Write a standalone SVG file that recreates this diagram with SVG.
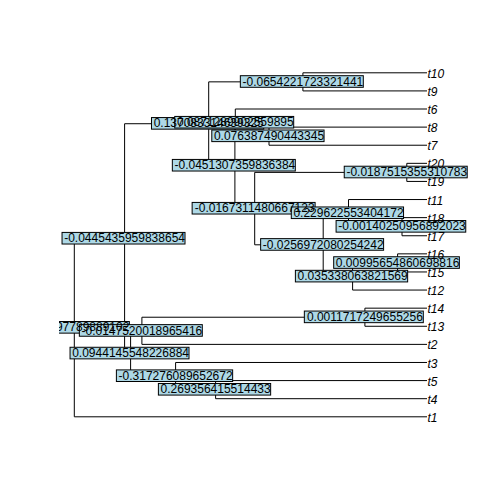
<svg xmlns="http://www.w3.org/2000/svg" width="504" height="504" viewBox="0 0 504 504">
<defs>
<clipPath id="plot"><rect x="59.04" y="59.04" width="414.72" height="371.52"/></clipPath>
<style>
.e{stroke:#000;stroke-width:1;fill:none}
.box{fill:#ADD8E6;stroke:#000;stroke-width:1}
.nl{font-family:"Liberation Sans",Arial,sans-serif;font-size:12px;fill:#000;text-anchor:middle}
.tl{font-family:"Liberation Sans",Arial,sans-serif;font-size:12px;font-style:italic;fill:#000;text-anchor:start}
</style>
</defs>
<rect width="504" height="504" fill="#fff"/>
<g id="connectors" class="e">
<path d="M74.3 238.58V416.8M124.6 123.72V353.43M208.7 81.855V165.59M302.9 72.8V90.91M234.9 122.59V208.59M235.3 109.01V136.17M269 127.12V145.22M254.7 172.38V244.8M406.8 163.33V181.43M323.2 213.12V276.48M348.5 199.54V226.695M402 217.64V235.75M352.6 262.905V290.06M397.6 253.85V271.96M130.6 330.8V376.06M141.9 317.22V344.38M364.9 308.17V326.27M175.6 362.48V389.64M215.6 380.59V398.69"/>
<path d="M74.3 238.58H124.6M74.3 416.8H427M124.6 123.72H208.7M124.6 353.43H130.6M208.7 81.855H302.9M208.7 165.59H234.9M302.9 72.8H427M302.9 90.91H427M234.9 122.59H235.3M234.9 208.59H254.7M235.3 109.01H427M235.3 136.17H269M269 127.12H427M269 145.22H427M254.7 172.38H406.8M254.7 244.8H323.2M406.8 163.33H427M406.8 181.43H427M323.2 213.12H348.5M323.2 276.48H352.6M348.5 199.54H427M348.5 226.695H402M402 217.64H427M402 235.75H427M352.6 262.905H397.6M352.6 290.06H427M397.6 253.85H427M397.6 271.96H427M130.6 330.8H141.9M130.6 376.06H175.6M141.9 317.22H364.9M141.9 344.38H427M364.9 308.17H427M364.9 326.27H427M175.6 362.48H427M175.6 389.64H215.6M215.6 380.59H427M215.6 398.69H427"/>
</g>
<g id="label-boxes" clip-path="url(#plot)">
<rect id="box-root" class="box" x="17.09" y="321.53" width="112.26" height="11.6"/>
<rect id="box-A" class="box" x="62.04" y="232.42" width="122.96" height="11.6"/>
<rect id="box-B" class="box" x="151.49" y="117.56" width="112.26" height="11.6"/>
<rect id="box-C" class="box" x="240.34" y="75.7" width="122.96" height="11.6"/>
<rect id="box-D" class="box" x="172.34" y="159.43" width="122.96" height="11.6"/>
<rect id="box-E" class="box" x="174.74" y="116.43" width="118.96" height="11.6"/>
<rect id="box-F" class="box" x="211.79" y="130.01" width="112.26" height="11.6"/>
<rect id="box-G" class="box" x="192.14" y="202.43" width="122.96" height="11.6"/>
<rect id="box-H" class="box" x="344.24" y="166.22" width="122.96" height="11.6"/>
<rect id="box-I" class="box" x="260.64" y="238.64" width="122.96" height="11.6"/>
<rect id="box-J" class="box" x="291.29" y="206.96" width="112.26" height="11.6"/>
<rect id="box-K" class="box" x="336.09" y="220.54" width="129.66" height="11.6"/>
<rect id="box-L" class="box" x="295.39" y="270.32" width="112.26" height="11.6"/>
<rect id="box-M" class="box" x="333.69" y="256.75" width="125.66" height="11.6"/>
<rect id="box-N" class="box" x="70.04" y="347.27" width="118.96" height="11.6"/>
<rect id="box-O" class="box" x="79.34" y="324.64" width="122.96" height="11.6"/>
<rect id="box-P" class="box" x="304.34" y="311.06" width="118.96" height="11.6"/>
<rect id="box-Q" class="box" x="116.39" y="369.9" width="116.26" height="11.6"/>
<rect id="box-R" class="box" x="158.39" y="383.48" width="112.26" height="11.6"/>
</g>
<g id="nodes" clip-path="url(#plot)">
<g id="node-root"><text class="nl" x="74.3" y="331.4">0.421397789889102</text></g>
<g id="node-A"><text class="nl" x="124.6" y="242.3">-0.0445435959838654</text></g>
<g id="node-B"><text class="nl" x="208.7" y="127.4">0.137083314639325</text></g>
<g id="node-C"><text class="nl" x="302.9" y="85.55">-0.0654221723321441</text></g>
<g id="node-D"><text class="nl" x="234.9" y="169.3">-0.0451307359836384</text></g>
<g id="node-E"><text class="nl" x="235.3" y="126.3">0.0871289902559895</text></g>
<g id="node-F"><text class="nl" x="269" y="139.9">0.076387490443345</text></g>
<g id="node-G"><text class="nl" x="254.7" y="212.3">-0.0167311480667123</text></g>
<g id="node-H"><text class="nl" x="406.8" y="176.1">-0.0187515355310783</text></g>
<g id="node-I"><text class="nl" x="323.2" y="248.5">-0.0256972080254242</text></g>
<g id="node-J"><text class="nl" x="348.5" y="216.8">0.229622553404172</text></g>
<g id="node-K"><text class="nl" x="402" y="230.4">-0.00140250956892023</text></g>
<g id="node-L"><text class="nl" x="352.6" y="280.2">0.035338063821569</text></g>
<g id="node-M"><text class="nl" x="397.6" y="266.6">0.00995654860698816</text></g>
<g id="node-N"><text class="nl" x="130.6" y="357.1">0.0944145548226884</text></g>
<g id="node-O"><text class="nl" x="141.9" y="334.5">-0.0147520018965416</text></g>
<g id="node-P"><text class="nl" x="364.9" y="320.9">0.0011717249655256</text></g>
<g id="node-Q"><text class="nl" x="175.6" y="379.8">-0.317276089652672</text></g>
<g id="node-R"><text class="nl" x="215.6" y="393.3">0.269356415514433</text></g>
<g id="tip-t10"><text class="tl" x="427.5" y="77.8">t10</text></g>
<g id="tip-t9"><text class="tl" x="427.5" y="95.9">t9</text></g>
<g id="tip-t6"><text class="tl" x="427.5" y="114">t6</text></g>
<g id="tip-t8"><text class="tl" x="427.5" y="132.1">t8</text></g>
<g id="tip-t7"><text class="tl" x="427.5" y="150.2">t7</text></g>
<g id="tip-t20"><text class="tl" x="427.5" y="168.3">t20</text></g>
<g id="tip-t19"><text class="tl" x="427.5" y="186.4">t19</text></g>
<g id="tip-t11"><text class="tl" x="427.5" y="204.5">t11</text></g>
<g id="tip-t18"><text class="tl" x="427.5" y="222.6">t18</text></g>
<g id="tip-t17"><text class="tl" x="427.5" y="240.7">t17</text></g>
<g id="tip-t16"><text class="tl" x="427.5" y="258.8">t16</text></g>
<g id="tip-t15"><text class="tl" x="427.5" y="277">t15</text></g>
<g id="tip-t12"><text class="tl" x="427.5" y="295.1">t12</text></g>
<g id="tip-t14"><text class="tl" x="427.5" y="313.2">t14</text></g>
<g id="tip-t13"><text class="tl" x="427.5" y="331.3">t13</text></g>
<g id="tip-t2"><text class="tl" x="427.5" y="349.4">t2</text></g>
<g id="tip-t3"><text class="tl" x="427.5" y="367.5">t3</text></g>
<g id="tip-t5"><text class="tl" x="427.5" y="385.6">t5</text></g>
<g id="tip-t4"><text class="tl" x="427.5" y="403.7">t4</text></g>
<g id="tip-t1"><text class="tl" x="427.5" y="421.8">t1</text></g>
</g>
</svg>
